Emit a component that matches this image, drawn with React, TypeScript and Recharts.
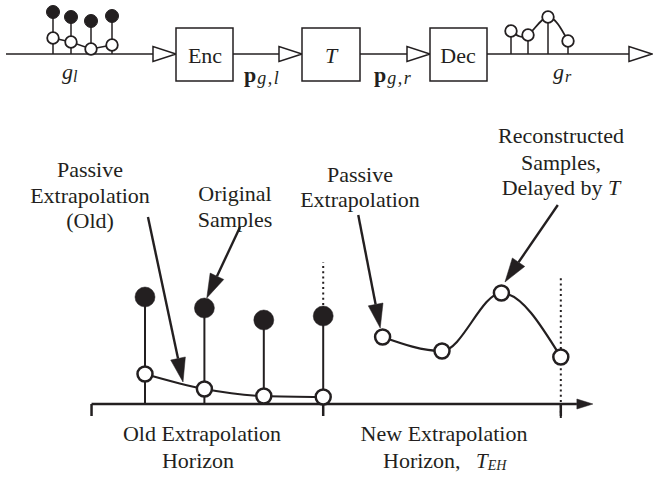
import React from "react"
import { ComposedChart, XAxis, YAxis, Scatter, Line, ReferenceLine, ReferenceArea } from "recharts"

const INK = "#231f20"
const SERIF = "Liberation Serif, Times New Roman, Nimbus Roman, DejaVu Serif, serif"

// lower plot: sample index vs amplitude
const oldTimes = [1, 2, 3, 4]
const originalSamples = [1.07, 0.96, 0.84, 0.88]
const passiveOld = [0.3, 0.15, 0.08, 0.07]
const newTimes = [5, 6, 7, 8]
const reconstructed = [0.67, 0.53, 1.11, 0.47]
const horizonTicks = [0.1, 4, 8]

// upper block diagram: position along the signal line vs amplitude
const inPos = [53, 71, 91, 112]
const inOriginal = [42, 37, 33, 38]
const inPassive = [16, 12, 5, 9]
const outPos = [511, 528, 548, 568]
const outSamples = [23, 19, 37, 13]
const blockNames = ["Enc", "T", "Dec"]

const blockEdges = [[176, 233], [302, 360], [430, 487]]
const signalPath = [[6, 176], [233, 302], [360, 430], [487, 652]]

const pointers = [
  { from: [1.05, 1.87], to: [1.64, 0.22] },
  { from: [2.6, 1.77], to: [2.04, 1.06] },
  { from: [4.59, 1.89], to: [4.96, 0.76] },
  { from: [7.95, 1.99], to: [7.06, 1.22] },
]

const zip = (xs: number[], ys: number[]) => xs.map((t, i) => ({ t, v: ys[i] }))

const arrowShape = (len: number, half: number, open: boolean, sw: number) => (p: any) => {
  const { x1, y1, x2, y2 } = p
  const dx = x2 - x1
  const dy = y2 - y1
  const d = Math.hypot(dx, dy) || 1
  const ux = dx / d
  const uy = dy / d
  const bx = x2 - ux * len
  const by = y2 - uy * len
  const pts = `${x2},${y2} ${bx - uy * half},${by + ux * half} ${bx + uy * half},${by - ux * half}`
  return (
    <g>
      <line x1={x1} y1={y1} x2={bx} y2={by} stroke={INK} strokeWidth={sw} />
      <polygon points={pts} fill={open ? "#fff" : INK} stroke={INK} strokeWidth={open ? 1.5 : 0.5} />
    </g>
  )
}

const dot = (r: number, filled: boolean, sw: number) => (p: any) => (
  <circle cx={p.cx} cy={p.cy} r={r} fill={filled ? INK : "#fff"} stroke={INK} strokeWidth={sw} />
)

function BlockDiagram() {
  return (
    <ComposedChart width={653} height={100} margin={{ top: 0, right: 0, bottom: 0, left: 0 }}>
      <XAxis type="number" dataKey="t" domain={[0, 653]} hide />
      <YAxis type="number" dataKey="v" domain={[-46, 54]} hide />
      {signalPath.map(([a, b], i) => (
        <ReferenceLine key={"s" + i} segment={[{ x: a, y: 0 }, { x: b, y: 0 }]}
          shape={arrowShape(23, 7.5, true, 1.5)} zIndex={50} />
      ))}
      {blockEdges.map(([a, b], i) => (
        <ReferenceArea key={"b" + i} x1={a} x2={b} y1={-27} y2={26}
          fill="#fff" fillOpacity={1} stroke={INK} strokeWidth={1.5} />
      ))}
      {inPos.map((t, i) => (
        <ReferenceLine key={"is" + i} segment={[{ x: t, y: 0 }, { x: t, y: inOriginal[i] }]}
          stroke={INK} strokeWidth={1.5} zIndex={50} />
      ))}
      {outPos.map((t, i) => (
        <ReferenceLine key={"os" + i} segment={[{ x: t, y: 0 }, { x: t, y: outSamples[i] }]}
          stroke={INK} strokeWidth={1.5} zIndex={50} />
      ))}
      <Line data={zip(inPos, inPassive)} dataKey="v" type="linear" stroke={INK} strokeWidth={1.5}
        dot={false} activeDot={false} isAnimationActive={false} />
      <Line data={zip(outPos, outSamples)} dataKey="v" type="natural" stroke={INK} strokeWidth={1.8}
        dot={false} activeDot={false} isAnimationActive={false} />
      <Scatter data={zip(inPos, inOriginal)} shape={dot(6.5, true, 1)} isAnimationActive={false} />
      <Scatter data={zip(inPos, inPassive)} shape={dot(5.8, false, 1.8)} isAnimationActive={false} />
      <Scatter data={zip(outPos, outSamples)} shape={dot(5.8, false, 1.8)} isAnimationActive={false} />
    </ComposedChart>
  )
}

function HorizonPlot() {
  return (
    <ComposedChart width={653} height={477} margin={{ top: 0, right: 0, bottom: 0, left: 0 }}>
      <XAxis type="number" dataKey="t" domain={[-1.441, 9.552]} hide />
      <YAxis type="number" dataKey="v" domain={[-0.73, 4.04]} hide />
      <ReferenceLine segment={[{ x: 4, y: 0.99 }, { x: 4, y: 1.42 }]} stroke={INK} strokeWidth={2}
        strokeDasharray="2 3.3" zIndex={50} />
      <ReferenceLine segment={[{ x: 8, y: -0.14 }, { x: 8, y: 1.28 }]} stroke={INK} strokeWidth={2}
        strokeDasharray="2 3.3" zIndex={50} />
      <ReferenceLine segment={[{ x: 0.1, y: 0 }, { x: 8.54, y: 0 }]} shape={arrowShape(16, 5, false, 2.5)} zIndex={50} />
      {horizonTicks.map((t, i) => (
        <ReferenceLine key={"h" + i} segment={[{ x: t, y: 0 }, { x: t, y: -0.12 }]}
          stroke={INK} strokeWidth={2.5} zIndex={50} />
      ))}
      {oldTimes.map((t, i) => (
        <ReferenceLine key={"st" + i} segment={[{ x: t, y: 0 }, { x: t, y: originalSamples[i] }]}
          stroke={INK} strokeWidth={2} zIndex={50} />
      ))}
      {pointers.map((p, i) => (
        <ReferenceLine key={"p" + i} segment={[{ x: p.from[0], y: p.from[1] }, { x: p.to[0], y: p.to[1] }]}
          shape={arrowShape(24, 7.5, false, 2.4)} zIndex={50} />
      ))}
      <Line data={zip(oldTimes, passiveOld)} dataKey="v" type="monotone" stroke={INK} strokeWidth={2}
        dot={false} activeDot={false} isAnimationActive={false} />
      <Line data={zip(newTimes, reconstructed)} dataKey="v" type="monotone" stroke={INK} strokeWidth={2.2}
        dot={false} activeDot={false} isAnimationActive={false} />
      <Scatter data={zip(oldTimes, originalSamples)} shape={dot(10, true, 0.5)} isAnimationActive={false} />
      <Scatter data={zip(oldTimes, passiveOld)} shape={dot(7.5, false, 2.5)} isAnimationActive={false} />
      <Scatter data={zip(newTimes, reconstructed)} shape={dot(7.5, false, 2.5)} isAnimationActive={false} />
    </ComposedChart>
  )
}

function Labels() {
  return (
    <svg width={653} height={477}
      style={{ position: "absolute", left: 0, top: 0, pointerEvents: "none", fontFamily: SERIF }}>
      <g fill={INK} style={{ fontFamily: SERIF }}>
        <g fontSize={22} textAnchor="middle">
          <text x={205} y={63}>{blockNames[0]}</text>
          <text x={331} y={63} fontStyle="italic">{blockNames[1]}</text>
          <text x={458} y={63}>{blockNames[2]}</text>
        </g>
        <text x={62} y={79} fontSize={22}>
          <tspan fontStyle="italic">g</tspan>
          <tspan fontStyle="italic" fontSize={16} dy={3}>l</tspan>
        </text>
        <text x={244} y={82} fontSize={22}>
          <tspan fontWeight="bold">p</tspan>
          <tspan fontStyle="italic" fontSize={18} dy={2} dx={1} letterSpacing={1.5}>g,l</tspan>
        </text>
        <text x={374} y={82} fontSize={22}>
          <tspan fontWeight="bold">p</tspan>
          <tspan fontStyle="italic" fontSize={18} dy={2} dx={1} letterSpacing={1.5}>g,r</tspan>
        </text>
        <text x={553} y={79} fontSize={22}>
          <tspan fontStyle="italic">g</tspan>
          <tspan fontStyle="italic" fontSize={16} dy={3} dx={1}>r</tspan>
        </text>
        <g fontSize={22} textAnchor="middle">
          <text x={90} y={177}>Passive</text>
          <text x={90} y={203}>Extrapolation</text>
          <text x={90} y={228}>(Old)</text>
          <text x={235} y={201}>Original</text>
          <text x={235} y={227}>Samples</text>
          <text x={360} y={182}>Passive</text>
          <text x={360} y={207}>Extrapolation</text>
          <text x={561} y={143}>Reconstructed</text>
          <text x={561} y={170}>Samples,</text>
          <text x={561} y={195}>Delayed by <tspan fontStyle="italic">T</tspan></text>
          <text x={202} y={441}>Old Extrapolation</text>
          <text x={198} y={468}>Horizon</text>
          <text x={444} y={441}>New Extrapolation</text>
        </g>
        <text x={383} y={468} fontSize={22}>Horizon,</text>
        <text x={476} y={468} fontSize={21} fontStyle="italic">
          T<tspan fontSize={14} dy={2}>EH</tspan>
        </text>
      </g>
    </svg>
  )
}

export default function App() {
  return (
    <div style={{ position: "relative", width: 653, height: 477, background: "#fff" }}>
      <style>{"body{margin:0}"}</style>
      <div style={{ position: "absolute", left: 0, top: 0 }}>
        <HorizonPlot />
      </div>
      <div style={{ position: "absolute", left: 0, top: 0 }}>
        <BlockDiagram />
      </div>
      <Labels />
    </div>
  )
}
